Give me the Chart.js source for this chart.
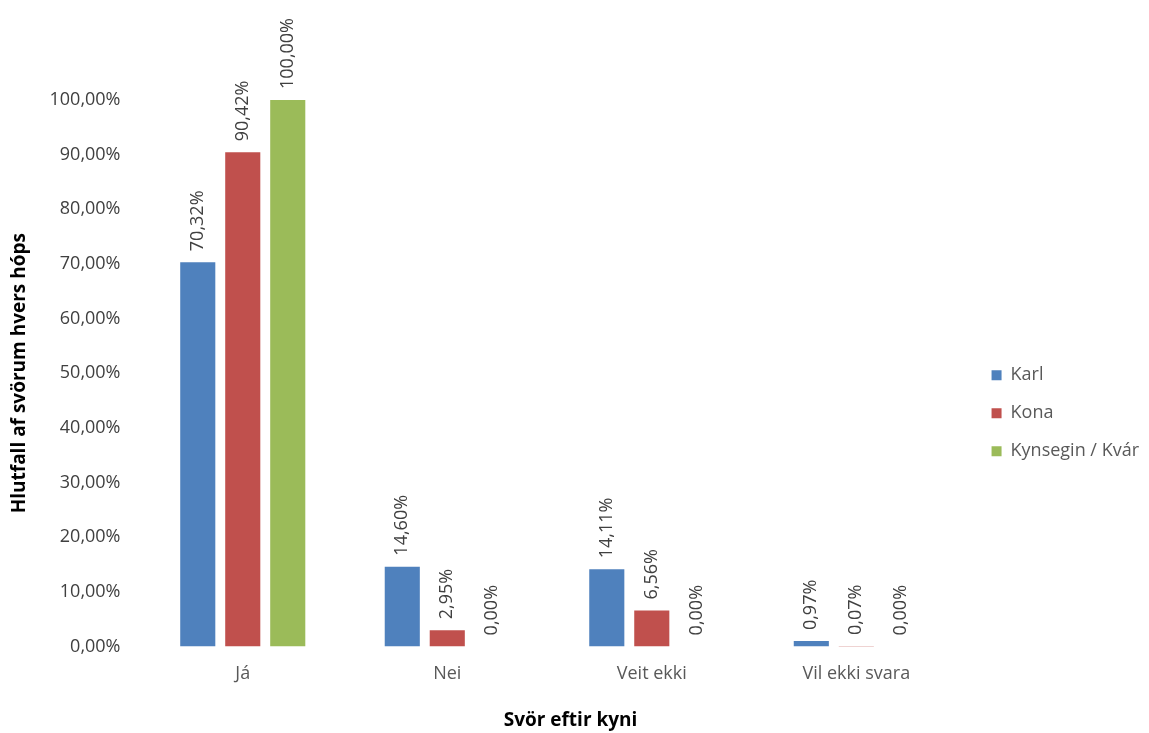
<!DOCTYPE html>
<html>
<head>
<meta charset="utf-8">
<script src="https://cdn.jsdelivr.net/npm/chart.js@4.4.1/dist/chart.umd.min.js"></script>
<style>
  html, body { margin: 0; padding: 0; background: #fff; }
  #wrap { width: 1149px; height: 733px; }
</style>
</head>
<body>
<div id="wrap"><canvas id="chart"></canvas></div>
<script>
// answers split by gender, share of each group in percent
const categories = ["Já", "Nei", "Veit ekki", "Vil ekki svara"];
const seriesNames = ["Karl", "Kona", "Kynsegin / Kvár"];
const karl = [70.32, 14.60, 14.11, 0.97];
const kona = [90.42, 2.95, 6.56, 0.07];
const kynsegin = [100.00, 0.00, 0.00, 0.00];
const colors = ["#4F81BD", "#C0504D", "#9BBB59"];
const xTitle = "Svör eftir kyni";

const FONT = "'Open Sans', sans-serif";
const pct = (v) => v.toFixed(2).replace(".", ",") + "%";

// writes each bar's value vertically just above the bar
const valueLabels = {
  id: "valueLabels",
  afterDatasetsDraw(chart) {
    const ctx = chart.ctx;
    ctx.save();
    ctx.font = "18px " + FONT;
    ctx.fillStyle = "#404040";
    ctx.textAlign = "left";
    ctx.textBaseline = "middle";
    chart.data.datasets.forEach((ds, i) => {
      const meta = chart.getDatasetMeta(i);
      meta.data.forEach((bar, j) => {
        ctx.save();
        ctx.translate(bar.x, bar.y - 11);
        ctx.rotate(-Math.PI / 2);
        ctx.fillText(pct(ds.data[j]), 0, 0);
        ctx.restore();
      });
    });
    ctx.restore();
  },
};

// category axis title, centred on the whole canvas width like the office chart
const bottomTitle = {
  id: "bottomTitle",
  afterDraw(chart) {
    const ctx = chart.ctx;
    ctx.save();
    ctx.font = "bold 19px " + FONT;
    ctx.fillStyle = "#000";
    ctx.textAlign = "center";
    ctx.textBaseline = "middle";
    ctx.fillText(xTitle, chart.width / 2 - 4, chart.height - 12);
    ctx.restore();
  },
};

const ctx = document.getElementById("chart").getContext("2d");
new Chart(ctx, {
  type: "bar",
  data: {
    labels: categories,
    datasets: [karl, kona, kynsegin].map((d, i) => ({
      label: seriesNames[i],
      data: d,
      backgroundColor: colors[i],
      barPercentage: 0.78,
      categoryPercentage: 0.66,
    })),
  },
  plugins: [valueLabels, bottomTitle],
  options: {
    responsive: true,
    maintainAspectRatio: false,
    animation: false,
    layout: { padding: { top: 100, left: 4, right: 0, bottom: 31 } },
    plugins: {
      tooltip: { enabled: false },
      legend: {
        position: "right",
        // empty title only pushes the items a little lower
        title: { display: true, text: "", padding: { top: 10, bottom: 0 } },
        labels: {
          boxWidth: 10,
          boxHeight: 10,
          padding: 20,
          color: "#595959",
          font: { family: FONT, size: 18 },
        },
      },
    },
    scales: {
      x: {
        grid: { display: false, drawTicks: false },
        border: { display: false },
        ticks: { color: "#595959", font: { family: FONT, size: 18 }, padding: 17 },
      },
      y: {
        min: 0,
        max: 100,
        grid: { display: false, drawTicks: false },
        border: { display: false },
        ticks: {
          stepSize: 10,
          color: "#404040",
          font: { family: FONT, size: 18 },
          padding: 20,
          callback: (v) => pct(v),
        },
        title: {
          display: true,
          text: "Hlutfall af svörum hvers hóps",
          color: "#000",
          font: { family: FONT, size: 19, weight: "bold" },
          padding: { top: 4, bottom: 16 },
        },
        afterFit: (s) => { s.width = 136.5; },
      },
      // empty axis on the right, keeps a gap before the legend
      gap: {
        position: "right",
        display: true,
        grid: { display: false, drawTicks: false },
        border: { display: false },
        ticks: { display: false },
        afterFit: (s) => { s.width = 13; },
      },
    },
  },
});
</script>
</body>
</html>
